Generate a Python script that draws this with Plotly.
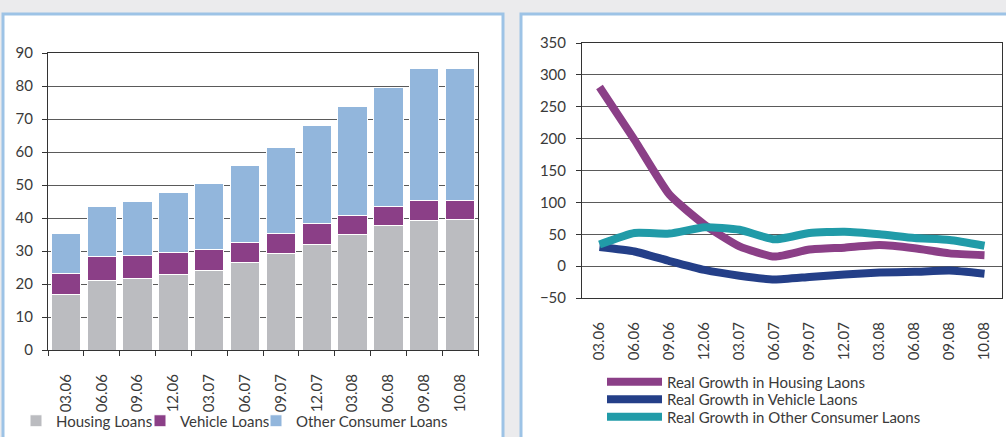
import plotly.graph_objects as go

W, H = 1006, 437

# Quarter labels shared by both panels
quarters = ["03.06", "06.06", "09.06", "12.06", "03.07", "06.07",
            "09.07", "12.07", "03.08", "06.08", "09.08", "10.08"]

# Outstanding loans by type (stacked bars)
housing_loans = [16.7, 21.1, 21.7, 23.0, 24.1, 26.5, 29.3, 31.9, 35.1, 37.6, 39.2, 39.5]
vehicle_loans = [6.5, 7.2, 6.9, 6.6, 6.3, 6.1, 6.0, 6.3, 5.8, 5.9, 6.0, 5.8]
other_loans = [12.1, 15.2, 16.3, 18.2, 20.2, 23.3, 26.1, 29.9, 32.9, 36.0, 40.1, 40.0]

# Real growth rates (lines)
growth_housing = [281, 198, 112, 65, 31, 15, 26, 29, 33, 28, 20, 17]
growth_vehicle = [30, 23, 8, -6, -15, -21, -17, -13, -10, -9, -7, -12]
growth_other = [34, 52, 51, 61, 57, 42, 52, 54, 50, 44, 41, 32]

FONT = "Lato"
TXT = "#3a3a3a"
GRID = "#5a5a5a"


def px(x):
    return x / W


def py(y):
    return 1 - y / H


fig = go.Figure()

bar_style = dict(marker_line_color="white", marker_line_width=1, xaxis="x", yaxis="y")
fig.add_trace(go.Bar(x=quarters, y=housing_loans, name="Housing Loans",
                     marker_color="#bbbcc0", legend="legend", **bar_style))
fig.add_trace(go.Bar(x=quarters, y=vehicle_loans, name="Vehicle Loans",
                     marker_color="#8b3f87", legend="legend3", **bar_style))
fig.add_trace(go.Bar(x=quarters, y=other_loans, name="Other Consumer Loans",
                     marker_color="#92b6dc", legend="legend4", **bar_style))

line_style = dict(mode="lines", xaxis="x2", yaxis="y2")
fig.add_trace(go.Scatter(x=quarters, y=growth_housing, name="Real Growth in Housing Laons",
                         line=dict(color="#8b3f87", width=8, shape="spline", smoothing=0.5),
                         legend="legend2", **line_style))
fig.add_trace(go.Scatter(x=quarters, y=growth_vehicle, name="Real Growth in Vehicle Laons",
                         line=dict(color="#243f88", width=8, shape="spline", smoothing=0.5),
                         legend="legend5", **line_style))
fig.add_trace(go.Scatter(x=quarters, y=growth_other, name="Real Growth in Other Consumer Laons",
                         line=dict(color="#219ba8", width=8, shape="spline", smoothing=0.5),
                         legend="legend6", **line_style))

tickfont = dict(family=FONT, size=15, color=TXT)

# White panels with light blue frames
panel = dict(type="rect", xref="paper", yref="paper", fillcolor="white",
             line=dict(color="#9dc3e6", width=3), layer="below")
shapes = [
    dict(panel, x0=px(3), x1=px(503), y0=py(445), y1=py(14)),
    dict(panel, x0=px(521), x1=px(1015), y0=py(445), y1=py(14)),
]

axis_common = dict(tickfont=tickfont, showline=True, linecolor="#333",
                   linewidth=1, mirror=True)
legend_common = dict(xanchor="left", yanchor="middle", bgcolor="rgba(0,0,0,0)",
                     orientation="h", font=dict(family=FONT, size=15, color=TXT))
line_legend = dict(legend_common, itemwidth=55)

fig.update_layout(
    width=W, height=H,
    margin=dict(l=0, r=0, t=0, b=0, autoexpand=False),
    paper_bgcolor="#ebebed",
    plot_bgcolor="white",
    barmode="stack",
    bargap=0.18,
    showlegend=True,
    font=dict(family=FONT, size=15, color=TXT),
    shapes=shapes,
    xaxis=dict(axis_common, domain=[px(48), px(478)], anchor="y", type="category",
               tickangle=-90, ticks="outside", tickson="boundaries", ticklen=5,
               tickcolor="#333", showgrid=False, ticklabelstandoff=17),
    yaxis=dict(axis_common, domain=[py(350), py(53)], anchor="x", range=[0, 90],
               dtick=10, ticks="outside", ticklen=5, tickcolor="#333",
               showgrid=True, gridcolor=GRID, gridwidth=1, zeroline=False,
               ticklabelstandoff=6),
    xaxis2=dict(axis_common, domain=[px(582), px(1002)], anchor="y2", type="category",
                tickangle=-90, ticks="", showgrid=False, range=[-0.5, 11.5],
                ticklabelstandoff=17),
    yaxis2=dict(axis_common, domain=[py(298), py(43)], anchor="x2", range=[-50, 350],
                dtick=50, ticks="outside", ticklen=5, tickcolor="#333",
                showgrid=True, gridcolor=GRID, gridwidth=1, zeroline=False,
                ticklabelstandoff=7),
    # bar legend entries, one per series along the bottom of the left panel
    legend=dict(legend_common, x=px(16), y=py(421)),
    legend3=dict(legend_common, x=px(140), y=py(421)),
    legend4=dict(legend_common, x=px(256), y=py(421)),
    # line legend entries stacked under the right panel
    legend2=dict(line_legend, x=px(602), y=py(382)),
    legend5=dict(line_legend, x=px(602), y=py(399.5)),
    legend6=dict(line_legend, x=px(602), y=py(417)),
)

fig.write_html("out.html")
